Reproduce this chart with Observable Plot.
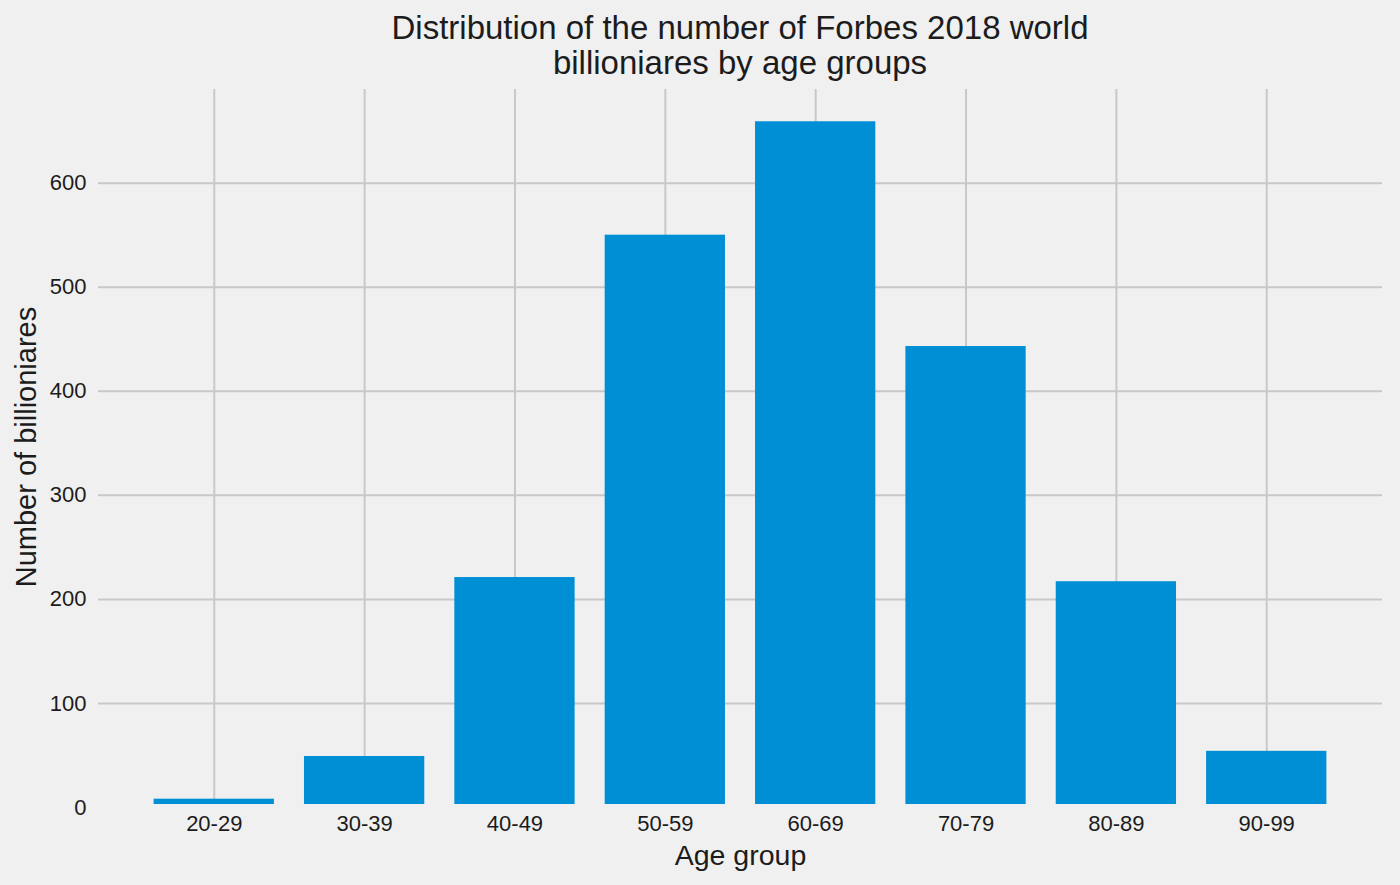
<!DOCTYPE html>
<html>
<head>
<meta charset="utf-8">
<script src="https://cdn.jsdelivr.net/npm/d3@7"></script>
<script src="https://cdn.jsdelivr.net/npm/@observablehq/plot@0.6"></script>
<style>
  html, body { margin: 0; padding: 0; background: #f0f0f0; overflow: hidden; }
  #title { width: 1284px; margin-left: 98px; height: 80px; padding-top: 10px; box-sizing: border-box; text-align: center;
    font-family: "Liberation Sans", Arial, sans-serif; font-size: 33px; line-height: 35px; color: #1c1c1c; }
  svg { display: block; }
</style>
</head>
<body>
<div id="title">Distribution of the number of Forbes 2018 world<br>billioniares by age groups</div>
<div id="chart"></div>
<script>
const ageGroups = ["20-29", "30-39", "40-49", "50-59", "60-69", "70-79", "80-89", "90-99"];
const counts = [8, 49, 221, 550, 659, 443, 217, 54];
const yTicks = [0, 100, 200, 300, 400, 500, 600];
const yGrid = [100, 200, 300, 400, 500, 600];
const table = ageGroups.map((g, i) => ({group: g, count: counts[i]}));

const chart = Plot.plot({
  width: 1400,
  height: 805,
  marginTop: 9,
  marginBottom: 81,
  marginLeft: 98,
  marginRight: 18,
  style: {background: "#f0f0f0", fontFamily: "'Liberation Sans', Arial, sans-serif", color: "#1c1c1c"},
  x: {domain: ageGroups, paddingInner: 0.2, paddingOuter: 0.37, round: false, label: null},
  y: {domain: [2.9, 690], label: null},
  marks: [
    Plot.ruleX(ageGroups, {x: d => d, stroke: "#c8c8c8", strokeWidth: 2}),
    Plot.ruleY(yGrid, {stroke: "#c8c8c8", strokeWidth: 2}),
    Plot.barY(table, {x: "group", y: "count", fill: "#008fd5", clip: true}),
    Plot.axisX({tickSize: 0, tickPadding: 11, fontSize: 22, label: null, fill: "#1c1c1c"}),
    Plot.axisY({ticks: yTicks, tickSize: 0, tickPadding: 12, fontSize: 22, label: null, fill: "#1c1c1c"}),
    Plot.text(["Age group"], {frameAnchor: "bottom", dy: 60, fontSize: 28.5, fill: "#1c1c1c"}),
    Plot.text(["Number of billioniares"], {frameAnchor: "left", textAnchor: "middle", rotate: -90, dx: -72, fontSize: 29, fill: "#1c1c1c"})
  ]
});
document.getElementById("chart").append(chart);
</script>
</body>
</html>
